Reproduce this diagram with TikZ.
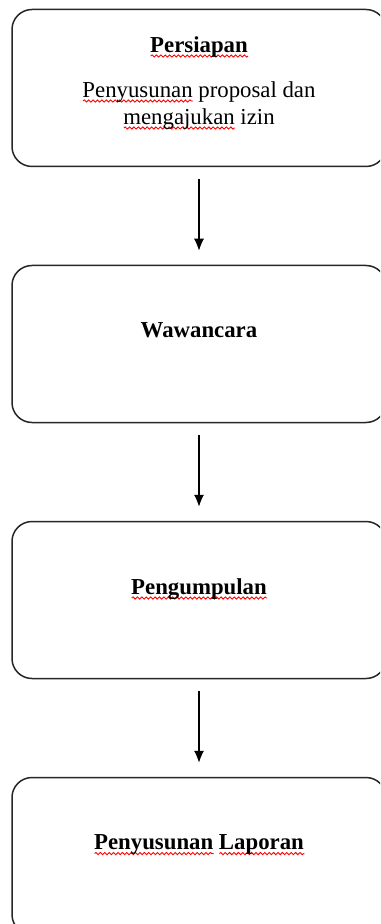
\documentclass[tikz,border=0pt]{standalone}
\usepackage{fontspec}
\setmainfont{Liberation Serif}
\usepackage{xcolor}
\usepackage{tikz}
\usetikzlibrary{shapes.geometric, arrows, arrows.meta, decorations.pathmorphing}
% red wavy underline (spelling marks)
\newsavebox{\salahbox}
\newlength{\salahwd}
\newcommand{\salah}[1]{\sbox{\salahbox}{#1}\setlength{\salahwd}{\wd\salahbox}%
\rlap{\tikz[baseline=0pt, x=1pt, y=1pt]\draw[red, line width=0.45pt, sharp corners, decorate, decoration={snake, amplitude=0.55pt, segment length=2.2pt}] (0pt,-1.8pt) -- (\salahwd,-1.8pt);}\usebox{\salahbox}}
\tikzstyle{tahap} = [rectangle, rounded corners=10pt,
minimum width=187pt,
minimum height=78.5pt,
text centered,
align=center,
line width=0.75pt,
draw=black!85,
font=\fontsize{11.4}{13.5}\selectfont]
\tikzstyle{arrow} = [line width=0.55pt, -{Latex[length=6pt,width=5pt]}, shorten <=6pt, shorten >=7pt]
\begin{document}
\begin{tikzpicture}[x=0.5pt, y=-0.5pt, node distance=128pt]
			\clip (0,0) rectangle (380,924);
			
			\node (persiapan) [tahap] at (199,88) {\textbf{\salah{Persiapan}}\\[9pt] \salah{Penyusunan} proposal dan\\ \salah{mengajukan} izin\\[-6pt] \mbox{}};
			
			\node (wawancara) [tahap, below of=persiapan] {\textbf{Wawancara}\\ \mbox{}};
			
			\node (pengumpulan) [tahap, below of=wawancara] {\textbf{\salah{Pengumpulan}}\\ \mbox{}};
			
			\node (laporan) [tahap, below of=pengumpulan] {\textbf{\salah{Penyusunan} \salah{Laporan}}\\ \mbox{}};
			
			\draw [arrow] (persiapan) -- (wawancara);
			\draw [arrow] (wawancara) -- (pengumpulan);
			\draw [arrow] (pengumpulan) -- (laporan);
			
		\end{tikzpicture}
\end{document}
